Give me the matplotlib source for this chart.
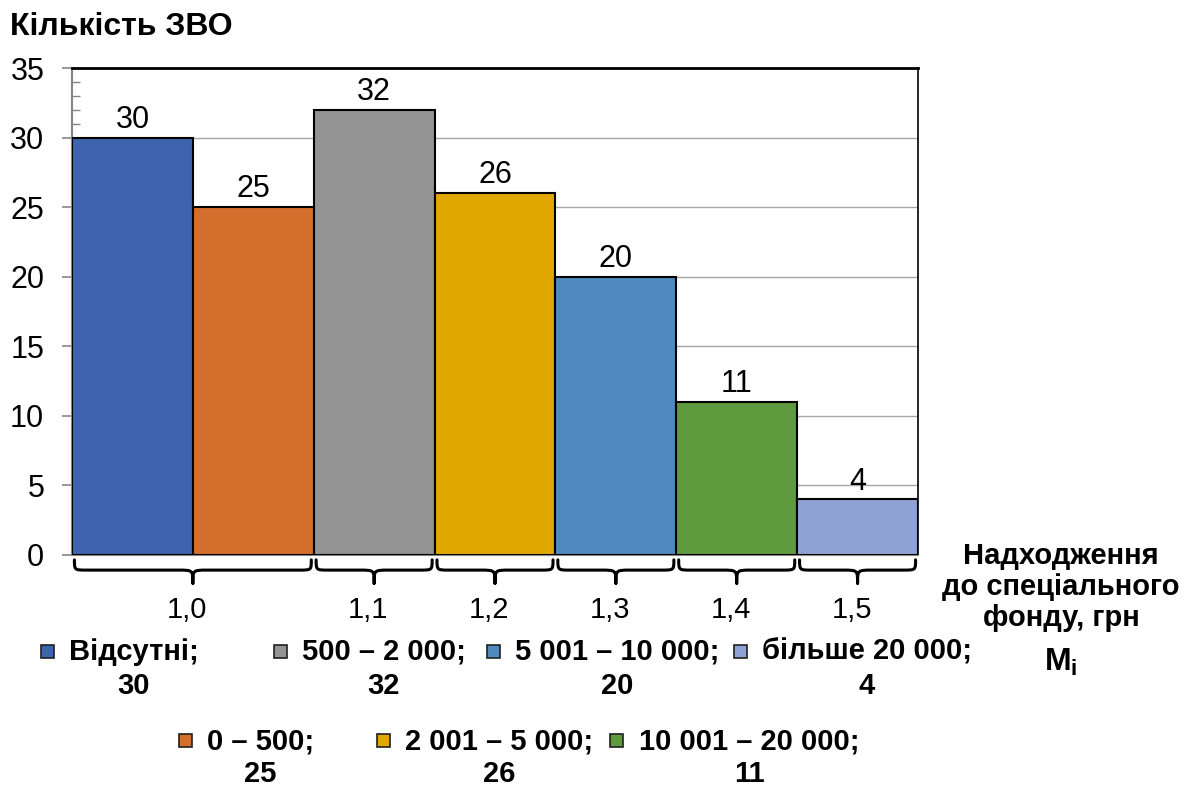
import matplotlib
matplotlib.use("Agg")
import matplotlib.pyplot as plt
import matplotlib.transforms as mtransforms
from matplotlib.patches import Rectangle, PathPatch
from matplotlib.path import Path
from matplotlib.ticker import MultipleLocator

plt.rcParams["font.family"] = ["Liberation Sans", "DejaVu Sans"]
plt.rcParams["mathtext.fontset"] = "custom"
plt.rcParams["mathtext.bf"] = "Liberation Sans:bold"
plt.rcParams["mathtext.rm"] = "Liberation Sans"

# income ranges of the special fund and number of institutions in each
categories = ["Відсутні", "0 – 500", "500 – 2 000", "2 001 – 5 000",
              "5 001 – 10 000", "10 001 – 20 000", "більше 20 000"]
counts = [30, 25, 32, 26, 20, 11, 4]
colors = ["#3D64AD", "#D46E2C", "#939393", "#E0A800",
          "#4E8ABE", "#5F9A3E", "#8FA2D4"]

# coefficient groups shown under the braces
group_sizes = [2, 1, 1, 1, 1, 1]
group_labels = ["1,0", "1,1", "1,2", "1,3", "1,4", "1,5"]

W, H = 1191, 787
fig = plt.figure(figsize=(W / 100, H / 100), dpi=100)
ax = fig.add_axes([72 / W, 1 - 555 / H, (918 - 72) / W, (555 - 68) / H])

bars = ax.bar(range(len(counts)), counts, width=1, align="edge",
              color=colors, edgecolor="black", linewidth=1.5, zorder=3)
ax.bar_label(bars, fontsize=22, padding=2)

ax.set_xlim(0, len(counts))
ax.set_ylim(0, 35)
ax.set_yticks(range(0, 36, 5))
ax.yaxis.set_minor_locator(MultipleLocator(1))
ax.set_xticks([])
ax.tick_params(axis="y", which="major", direction="out", length=7,
               width=1.2, color="#868686", labelsize=22, pad=13)
ax.tick_params(axis="y", which="minor", direction="in", length=6,
               width=1, color="#868686")
ax.yaxis.grid(True, color="#A6A6A6", linewidth=1)
ax.set_axisbelow(True)

ax.spines["left"].set_color("#868686")
ax.spines["left"].set_linewidth(1.5)
ax.spines["bottom"].set_color("#868686")
ax.spines["top"].set_color("black")
ax.spines["top"].set_linewidth(2)
ax.spines["right"].set_color("black")
ax.spines["right"].set_linewidth(1.2)

# curly braces under each coefficient group
trans = mtransforms.blended_transform_factory(ax.transData, ax.transAxes)
y_top, y_mid, y_tip = -0.010, -0.031, -0.058
r = 0.12
start = 0
for size, label in zip(group_sizes, group_labels):
    x0, x1 = start, start + size
    xc = (x0 + x1) / 2
    verts = [
        (x0 + 0.02, y_top),
        (x0 + 0.02, y_mid), (x0 + 0.02, y_mid), (x0 + r, y_mid),
        (xc - r, y_mid),
        (xc, y_mid), (xc, y_mid), (xc, y_tip),
        (xc, y_mid), (xc, y_mid), (xc + r, y_mid),
        (x1 - r, y_mid),
        (x1 - 0.02, y_mid), (x1 - 0.02, y_mid), (x1 - 0.02, y_top),
    ]
    codes = [Path.MOVETO,
             Path.CURVE4, Path.CURVE4, Path.CURVE4,
             Path.LINETO,
             Path.CURVE4, Path.CURVE4, Path.CURVE4,
             Path.CURVE4, Path.CURVE4, Path.CURVE4,
             Path.LINETO,
             Path.CURVE4, Path.CURVE4, Path.CURVE4]
    ax.add_patch(PathPatch(Path(verts, codes), fill=False, edgecolor="black",
                           linewidth=2.2, transform=trans, clip_on=False,
                           capstyle="round", joinstyle="round"))
    ax.text(xc - 0.05, -0.113, label, transform=trans, ha="center",
            va="center", fontsize=21)
    start = x1

fig.text(10 / W, 1 - 27 / H, "Кількість ЗВО", fontsize=23,
         fontweight="bold", ha="left", va="center")

fig.text(1061 / W, 1 - 587 / H, "Надходження\nдо спеціального\nфонду, грн",
         fontsize=21, fontweight="bold", ha="center", va="center",
         linespacing=1.15)
fig.text(1061 / W, 1 - 662 / H, r"$\mathbf{M_i}$", fontsize=23,
         ha="center", va="center")

# two-row legend: marker square, then label with its count underneath
marker_pos = [(47, 651), (185, 740), (280, 651), (383, 740),
              (493, 651), (617, 740), (740, 651)]
sq = 13
for (mx, my), name, n, c in zip(marker_pos, categories, counts, colors):
    fig.add_artist(Rectangle(((mx - sq / 2) / W, 1 - (my + sq / 2) / H),
                             sq / W, sq / H, transform=fig.transFigure,
                             facecolor=c, edgecolor="#202020", linewidth=1.2))
    fig.text((mx + 22) / W, 1 - (my - 13) / H, f"{name};\n{n}",
             fontsize=21, fontweight="bold",
             ha="left", va="top", multialignment="center", linespacing=1.25)

fig.savefig("out.png", dpi=100)
